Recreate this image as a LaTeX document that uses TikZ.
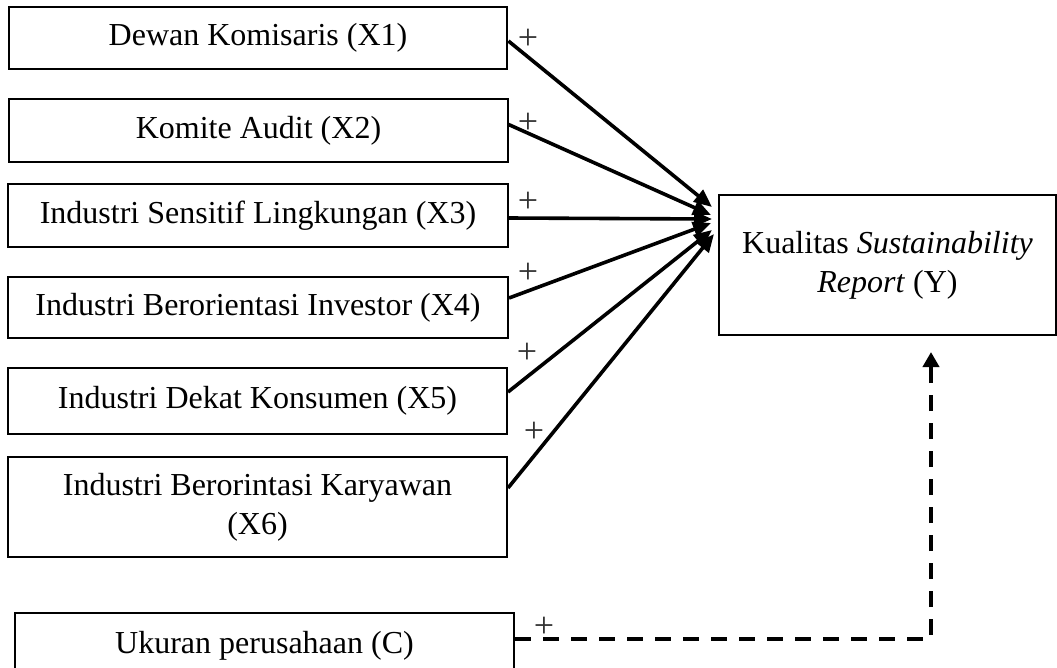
\documentclass[tikz,border=0pt]{standalone}
\usepackage{fontspec}
\setmainfont{Liberation Serif}
\usetikzlibrary{arrows.meta}
\begin{document}
\begin{tikzpicture}[x=1pt,y=-1pt,
  box/.style={draw, rectangle, inner sep=0pt, align=center,
    font=\fontsize{32}{39}\selectfont, line width=2pt},
  arr/.style={line width=3.6pt, -{Triangle[length=18pt,width=15pt]}},
  darr/.style={line width=3.8pt, dash pattern=on 16pt off 12pt,
    -{Triangle[length=15pt,width=16pt]}},
  plus/.style={font=\fontsize{36}{36}\selectfont, inner sep=0pt, text=black!80}]
\useasboundingbox (0,0) rectangle (1057,667);

\node[box, minimum width=498pt, minimum height=62pt, line width=2.8pt] (X1) at (258,38) {Dewan Komisaris (X1)};
\node[box, minimum width=499pt, minimum height=63pt, line width=1.1pt] (X2) at (258.5,130.5) {Komite Audit (X2)};
\node[box, minimum width=500pt, minimum height=63pt] (X3) at (258,215.5) {Industri Sensitif Lingkungan (X3)};
\node[box, minimum width=500pt, minimum height=61pt] (X4) at (258,307.5) {Industri Berorientasi Investor (X4)};
\node[box, minimum width=499pt, minimum height=66pt] (X5) at (257.5,401) {Industri Dekat Konsumen (X5)};
\node[box, minimum width=499pt, minimum height=100pt] (X6) at (257.5,507) {Industri Berorintasi Karyawan\\(X6)};
\node[box, minimum width=499pt, minimum height=66pt] (C) at (264.5,646) {Ukuran perusahaan (C)};
\node[box, minimum width=337pt, minimum height=140pt] (Y) at (887.5,265) {Kualitas \textit{Sustainability}\\\textit{Report} (Y)};

\coordinate (t1) at (712,207);
\coordinate (t2) at (711,215);
\coordinate (t3) at (712,219);
\coordinate (t4) at (711,223);
\coordinate (t5) at (712,230);
\coordinate (t6) at (714,234);

\draw[arr] ([yshift=-3pt]X1.east) -- (t1);
\draw[arr] ([yshift=6pt]X2.east) -- (t2);
\draw[arr] ([yshift=-2.5pt]X3.east) -- (t3);
\draw[arr] ([yshift=9.5pt]X4.east) -- (t4);
\draw[arr] ([yshift=9pt]X5.east) -- (t5);
\draw[arr] ([yshift=19pt]X6.east) -- (t6);

\coordinate (turn) at (931,639);
\draw[darr] (C.east |- turn) -- (turn) -- ([yshift=-16pt]Y.south -| turn);

\node[plus] (p1) at (528,39) {+};
\node[plus] (p2) at (528,123) {+};
\node[plus] (p3) at (528,202) {+};
\node[plus] (p4) at (528,273) {+};
\node[plus] (p5) at (527,353) {+};
\node[plus] (p6) at (534,432) {+};
\node[plus] (p7) at (544,627) {+};
\end{tikzpicture}
\end{document}
